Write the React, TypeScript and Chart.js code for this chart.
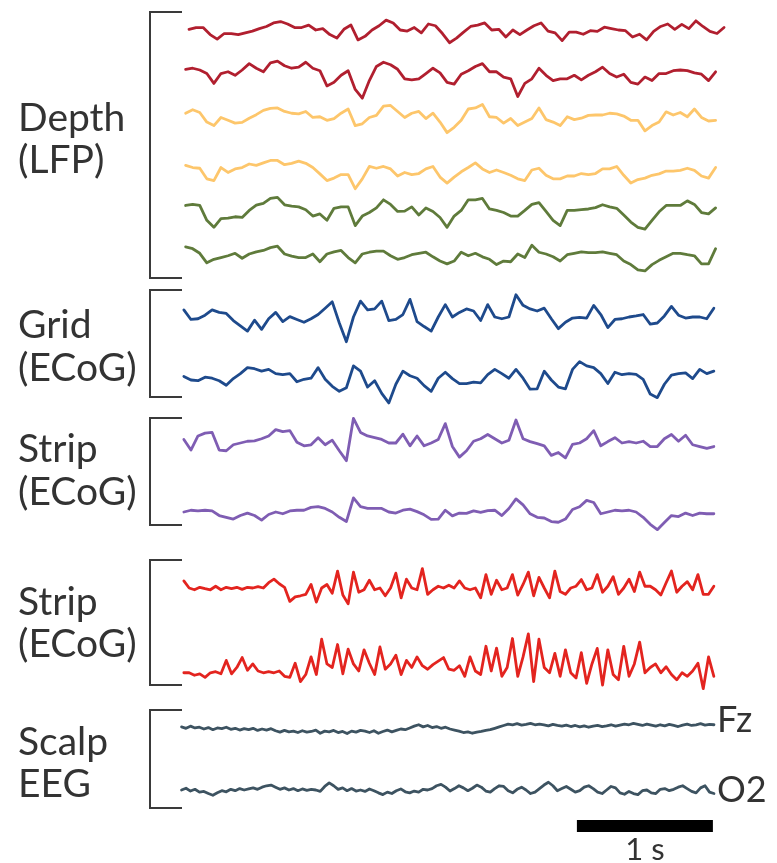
import React, { useEffect, useRef } from "react";
import { Chart, registerables } from "chart.js";

Chart.register(...registerables);

// ---- Data (amplitudes in arbitrary µV-like units, positive = up) ----
const depth1 = [2,7,7,-13,-26,-10,-10,-13,-8,-3,4,10,20,24,17,7,7,14,0,4,-13,-23,2,14,-28,-18,0,12,28,20,0,-3,7,-8,17,12,-10,-36,-23,-6,10,14,20,0,2,-20,0,-13,0,12,20,-3,-8,-30,-6,-6,-12,-2,-4,8,4,0,-2,-20,-12,-28,-4,10,17,2,16,4,26,10,-4,-10,7];
const depth2 = [2,5,0,-10,-38,-10,-5,-15,0,18,5,-5,20,25,12,5,8,22,5,-2,-45,-35,-15,-2,-55,-80,-30,10,22,15,2,-25,-28,-25,-10,5,-8,-35,-40,-12,-2,10,18,-5,-5,-20,-25,-75,-38,-25,5,-15,-30,-25,-25,-15,-28,-15,-5,8,-10,-20,-12,-35,-40,-20,-30,-10,-10,-2,0,-2,-8,-12,-30,-5];
const depth3 = [5,15,7,-20,-30,-7,-15,-23,-21,-9,1,13,19,20,10,5,3,10,-7,-5,-15,-10,5,17,-30,-25,-7,-1,25,27,10,-7,5,10,-10,5,-20,-50,-35,-15,17,20,30,-5,-7,-23,-10,-30,-20,-10,20,-13,-20,-30,-5,-13,-9,-1,0,0,5,3,-3,-15,-15,-45,-30,-20,9,0,7,-5,17,-7,-17,-15];
const depth4 = [13,7,5,-25,-30,7,-7,3,7,17,13,20,27,27,15,19,25,19,7,-11,-30,-23,-13,-13,-53,-25,10,5,10,3,-17,-7,-13,-10,3,10,-20,-37,-20,-5,7,20,3,-7,0,-7,-15,-25,-30,0,5,-15,-25,-25,-17,-17,-10,-13,-10,3,3,10,-15,-37,-27,-23,-15,-11,-3,-3,-1,5,-1,-17,-23,7];
const depth5 = [12,15,12,-30,-50,-25,-24,-20,-22,-2,13,18,32,35,14,10,8,0,-18,-12,-30,4,8,8,-45,-18,-8,5,28,15,-5,-4,8,-15,5,-5,-22,-50,-18,-2,28,28,32,2,-2,-8,-18,-18,-2,15,20,-5,-30,-45,-2,-2,0,2,6,14,8,4,-15,-35,-50,-55,-30,-6,12,12,12,25,15,-8,-12,5];
const depth6 = [20,15,2,-25,-15,-10,-5,2,-12,0,6,10,18,22,0,-6,-10,-10,0,-22,0,6,10,-10,-25,0,5,8,8,-5,-15,-10,-2,2,5,-8,-20,-28,-20,5,-5,2,-8,-15,-30,-20,-22,0,-10,25,5,0,-8,-20,-2,2,6,4,4,6,2,-2,-20,-30,-45,-48,-30,-18,-8,2,2,-2,-5,-28,-28,15];
const grid1 = [20,-7,-5,5,20,13,10,-10,-25,-40,-9,-35,-5,13,-13,1,-7,-15,-5,7,25,43,-17,-70,0,45,20,23,45,-10,-7,7,50,-13,-27,-40,0,35,0,13,23,17,-10,35,0,-5,0,63,33,23,17,25,-5,-33,-15,-3,-1,-3,33,7,-30,-7,-5,0,3,7,-20,-17,3,30,5,-3,0,0,-5,25];
const grid2 = [10,0,-2,8,5,-2,-15,4,18,35,32,25,30,18,15,18,-5,2,5,35,2,-18,-32,-22,40,25,-20,-2,-38,-65,-12,25,12,5,-16,-32,5,22,4,-10,-10,-6,-8,15,30,18,5,30,5,-26,-25,25,0,-20,-25,30,52,40,35,18,-10,22,15,18,16,2,-40,-50,-12,14,18,20,4,30,18,25];
const strip1 = [10,-20,20,28,30,-20,-22,-5,0,5,6,12,20,38,32,35,2,-8,-5,15,-5,8,-22,-50,70,30,20,15,10,0,0,25,-8,20,-8,0,10,55,-10,-40,-22,5,12,24,12,0,8,65,12,4,-2,-8,-35,-27,-42,-4,0,12,35,-8,4,15,0,4,0,5,-10,-10,12,24,5,22,-5,-10,-15,-10];
const strip2 = [0,5,3,5,3,-10,-15,-20,-10,-3,-10,-23,-7,0,-5,3,5,5,13,15,10,0,-15,-27,40,15,10,10,10,0,-3,5,8,1,-8,-21,-20,5,-11,-3,-4,3,-1,4,5,-10,10,37,20,-5,-15,-17,-27,-29,-20,7,15,33,27,-5,0,5,3,5,0,-15,-35,-50,-30,-10,-13,-3,-10,-3,-5,-5];
const strip3 = [20,0,-5,2,-2,-5,5,-5,2,-2,2,-4,2,0,4,0,15,25,12,2,-38,-25,-22,-18,10,-40,0,10,-15,48,-20,-45,45,-12,-5,22,-5,0,-22,0,42,-28,25,0,-5,55,-18,-5,5,0,8,0,20,0,-5,0,-28,38,-18,22,-5,0,38,-20,10,45,-22,30,0,-28,48,-10,-18,0,5,24,-5,0,38,-12,5,32,-18,0,25,-10,45,5,5,-5,-20,15,48,-12,5,18,-5,38,-18,-18,5];
const strip4 = [-5,-5,-12,-8,-18,-5,-2,-8,30,-8,10,38,2,20,0,-5,-2,-5,0,-15,-18,22,-30,-10,40,-10,90,20,10,75,-8,62,20,0,60,22,-10,68,5,20,45,-10,30,10,40,15,5,18,28,38,5,2,15,-15,40,0,-10,70,0,65,-15,10,92,-15,40,105,-30,90,10,-5,50,-15,60,-5,-20,52,-35,20,64,-40,60,-10,-25,70,-15,20,82,-5,10,20,-5,12,-10,-25,-5,-15,0,22,-50,40,-15];
const scalpFz = [6,2,8,3,5,0,4,-2,3,1,5,-1,2,-3,1,-2,2,-4,0,-3,1,-5,-9,-4,-8,-6,-10,-5,-9,-7,-3,-12,-6,-8,-4,-10,-7,-13,-6,-9,-4,-6,-10,-5,-12,-7,-3,-8,-4,0,-2,3,8,12,6,10,4,7,2,5,0,-3,-6,-10,-8,-12,-9,-7,-4,-2,2,6,10,14,12,15,11,13,16,12,14,12,9,13,10,8,11,7,10,6,9,5,8,10,7,9,12,8,11,14,12,16,13,10,14,11,8,12,9,13,10,7,11,14,10,12,15,11,13,12];
const scalpO2 = [0,5,-3,2,-6,-4,-10,-15,-8,-2,-5,2,-2,4,0,3,6,2,8,12,14,8,2,6,0,4,-2,3,-1,2,0,-4,10,20,12,2,6,-2,4,-3,0,-4,3,-2,-8,-13,-6,-10,-2,3,-5,-8,-3,-6,2,0,4,12,16,8,-3,4,12,6,-2,5,14,8,-3,-6,4,12,10,-2,-8,2,8,0,-10,-6,4,14,22,12,-2,4,10,2,-6,-2,8,12,4,-6,-10,0,10,6,-8,-12,-4,-10,-13,-2,0,-8,-10,2,4,-2,2,8,12,4,-4,-8,6,12,-6,-10];

const groupLabels = [["Depth", "(LFP)"], ["Grid", "(ECoG)"], ["Strip", "(ECoG)"], ["Strip", "(ECoG)"], ["Scalp", "EEG"]];
const channelLabels = ["Fz", "O2"];
const scaleBarLabel = "1 s";
const scaleBarSeconds = 1;

// ---- Layout / style (kept separate from data) ----
const TRACES = [depth1, depth2, depth3, depth4, depth5, depth6, grid1, grid2, strip1, strip2, strip3, strip4, scalpFz, scalpO2];
const COLORS = ["#b11f2f", "#b11f2f", "#fdc66b", "#fdc66b", "#5f7b3b", "#5f7b3b", "#1e4a8c", "#1e4a8c", "#7f5db3", "#7f5db3", "#e3241f", "#e3241f", "#3d5361", "#3d5361"];
const BASELINE_PX = [30, 70, 115, 170, 209.7, 254, 317, 380, 443, 512, 588, 671, 729, 790];
const START_S = [0.059, 0.034, 0.034, 0.034, 0.034, 0.034, 0.021, 0.021, 0.021, 0.021, 0.021, 0.021, 0.004, 0.004];
const END_S = [3.993, 3.931, 3.931, 3.931, 3.931, 3.931, 3.918, 3.918, 3.918, 3.918, 3.918, 3.918, 3.919, 3.919];
const GAIN = 0.353;
const W = 777;
const H = 863;
const ORIGIN_PX = 181;
const PX_PER_S = 136;
const SCALE_BAR_END_S = 3.911;

const BRACKETS = [[12, 278], [290, 397], [418, 525], [560, 685], [710, 808]];
const LABEL_BASELINES = [[131, 173], [338, 381], [462, 505], [615, 657], [755, 797]];
const CHANNEL_LABEL_Y = [732, 802];

const FONT = "Lato, 'Open Sans', 'DejaVu Sans', sans-serif";

const decorPlugin = {
  id: "decor",
  afterDatasetsDraw(chart: any) {
    const ctx = chart.ctx as CanvasRenderingContext2D;
    const xs = chart.scales.x;
    ctx.save();
    // brackets
    ctx.strokeStyle = "#3a3a3a";
    ctx.lineWidth = 2;
    BRACKETS.forEach(([top, bottom]) => {
      ctx.beginPath();
      ctx.moveTo(182, top);
      ctx.lineTo(150, top);
      ctx.lineTo(150, bottom);
      ctx.lineTo(182, bottom);
      ctx.stroke();
    });
    // group labels
    ctx.fillStyle = "#333333";
    ctx.font = `39px ${FONT}`;
    ctx.textBaseline = "alphabetic";
    ctx.textAlign = "left";
    groupLabels.forEach((lines, i) => {
      lines.forEach((txt, j) => ctx.fillText(txt, 18, LABEL_BASELINES[i][j]));
    });
    // channel labels
    ctx.font = `36px ${FONT}`;
    channelLabels.forEach((txt, i) => ctx.fillText(txt, 717, CHANNEL_LABEL_Y[i]));
    // scale bar through the x scale
    const x1 = xs.getPixelForValue(SCALE_BAR_END_S - scaleBarSeconds);
    const x2 = xs.getPixelForValue(SCALE_BAR_END_S);
    ctx.fillStyle = "#000000";
    ctx.fillRect(x1, 820, x2 - x1, 12);
    ctx.fillStyle = "#333333";
    ctx.font = `31px ${FONT}`;
    ctx.textAlign = "center";
    ctx.fillText(scaleBarLabel, (x1 + x2) / 2, 860);
    ctx.restore();
  },
};

export default function App() {
  const ref = useRef<HTMLCanvasElement | null>(null);
  useEffect(() => {
    if (!ref.current) return;
    const datasets = TRACES.map((vals, k) => ({
      data: vals.map((v, i) => ({
        x: START_S[k] + ((END_S[k] - START_S[k]) * i) / (vals.length - 1),
        y: BASELINE_PX[k] - v * GAIN,
      })),
      borderColor: COLORS[k],
      borderWidth: 2.8,
      pointRadius: 0,
      tension: 0,
      fill: false,
      borderJoinStyle: "round" as const,
      borderCapStyle: "round" as const,
    }));
    const chart = new Chart(ref.current, {
      type: "line",
      data: { datasets },
      options: {
        animation: false,
        responsive: false,
        devicePixelRatio: 1,
        layout: { padding: 0 },
        plugins: { legend: { display: false }, tooltip: { enabled: false } },
        scales: {
          x: { type: "linear", display: false, min: -ORIGIN_PX / PX_PER_S, max: (W - ORIGIN_PX) / PX_PER_S },
          y: { type: "linear", display: false, min: 0, max: H, reverse: true },
        },
      },
      plugins: [decorPlugin],
    });
    return () => chart.destroy();
  }, []);
  return (
    <div style={{ position: "absolute", left: 0, top: 0, width: W, height: H, background: "#ffffff" }}>
      <canvas ref={ref} width={W} height={H} style={{ width: W, height: H }} />
    </div>
  );
}
